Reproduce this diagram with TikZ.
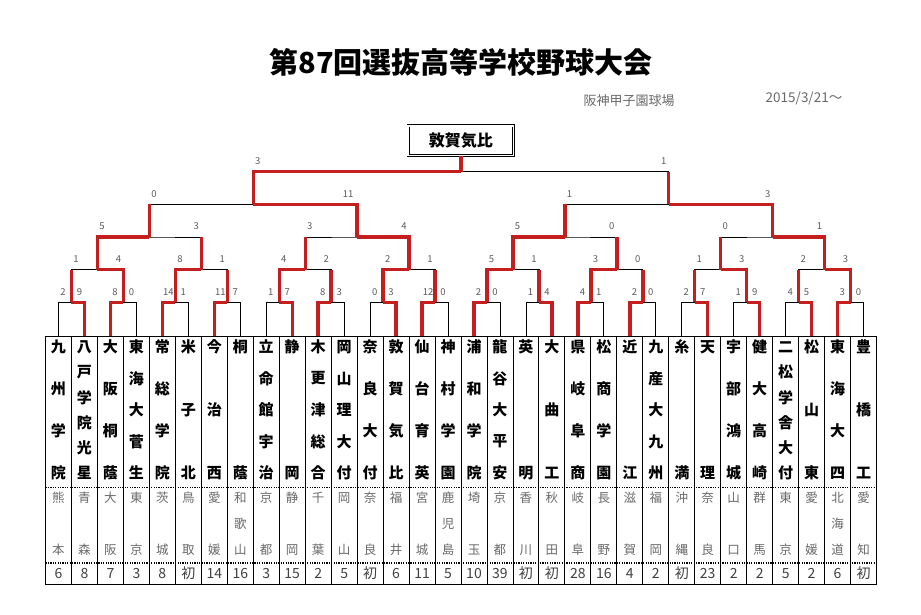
\documentclass[tikz,border=0pt]{standalone}
\usepackage{fontspec}
\newfontfamily\jp{Noto Sans CJK JP}
\definecolor{win}{RGB}{196,30,30}
\definecolor{prefgray}{RGB}{105,105,105}
\definecolor{scoregray}{RGB}{90,90,90}
\newcommand{\colw}{25.97}
\newcommand{\xz}{45.5}

% one game: level, index, winner side (0 left / 1 right), left score, right score
\newcommand{\match}[5]{%
	\pgfmathtruncatemacro\lowlev{#1-1}
	\pgfmathtruncatemacro\uplev{#1+1}
	\pgfmathtruncatemacro\upidx{#2/2}
	\pgfmathtruncatemacro\winidx{2*#2+#3}
	\pgfmathtruncatemacro\lidx{2*#2}
	\pgfmathtruncatemacro\ridx{2*#2+1}
	\draw[winline] (m\lowlev-\winidx) |- (m#1-#2);
	\ifnum#1<5
		\draw[winline] (m#1-#2) -- (m#1-#2 |- m\uplev-\upidx);
	\else
		\draw[winline] (m#1-#2) -- (m#1-#2 |- champ.south);
	\fi
	\ifnum#4>9
		\path (m\lowlev-\lidx |- m#1-#2) node[score, anchor=west, xshift=0.5pt, yshift=10.5pt] (s#1-#2a) {#4};
	\else
		\path (m\lowlev-\lidx |- m#1-#2) node[score, xshift=4.6pt, yshift=10.5pt] (s#1-#2a) {#4};
	\fi
	\ifnum#5>9
		\path (m\lowlev-\ridx |- m#1-#2) node[score, anchor=east, xshift=-3.5pt, yshift=10.5pt] (s#1-#2b) {#5};
	\else
		\path (m\lowlev-\ridx |- m#1-#2) node[score, xshift=-5pt, yshift=10.5pt] (s#1-#2b) {#5};
	\fi
}

\begin{document}
\begin{tikzpicture}[x=1pt,y=-1pt,
	line/.style={black, line width=0.8pt},
	winline/.style={win, line width=3.4pt},
	tablin/.style={black, line width=0.9pt},
	dotline/.style={black, line width=1.4pt, dash pattern=on 1.2pt off 1.2pt},
	score/.style={font=\jp\fontsize{9.5}{9.5}\selectfont, text=scoregray, inner sep=0pt},
	team/.style={font=\jp\bfseries\fontsize{15}{15}\selectfont, inner sep=0pt},
	pref/.style={font=\jp\fontsize{12.5}{12.5}\selectfont, text=prefgray, inner sep=0pt},
	seed/.style={font=\jp\fontsize{14}{14}\selectfont, text=black!75, inner sep=0pt}]
	\useasboundingbox[fill=white] (0,0) rectangle (921,614);
	
	\node[font=\jp\bfseries\fontsize{29}{29}\selectfont] (title) at (461,62.5) {第87回選抜高等学校野球大会};
	\node[font=\jp\fontsize{13}{13}\selectfont, text=prefgray] (venue) at (629,100.7) {阪神甲子園球場};
	\node[font=\jp\fontsize{13.5}{13.5}\selectfont, text=prefgray] (date) at (804,98.3) {2015/3/21～};
	\node[draw, double, line width=0.6pt, double distance=1.6pt, minimum width=105.5pt, minimum height=29.6pt,
		font=\jp\bfseries\fontsize{16}{16}\selectfont] (champ) at (460.85,140.5) {敦賀気比};
	
	% bracket points
	\foreach \i in {0,...,31}
		\coordinate (m0-\i) at ({\xz+\colw*(\i+0.5)},336);
	\foreach \L in {1,...,5}{
		\pgfmathtruncatemacro\last{32/2^\L-1}
		\foreach \k in {0,...,\last}
			\coordinate (m\L-\k) at ({\xz+\colw*2^(\L-1)*(2*\k+1)},{334.95-32.65*\L});
	}
	
	\foreach \L in {1,...,5}{
		\pgfmathtruncatemacro\last{32/2^\L-1}
		\pgfmathtruncatemacro\down{\L-1}
		\foreach \k in {0,...,\last}{
			\pgfmathtruncatemacro\a{2*\k}
			\pgfmathtruncatemacro\b{2*\k+1}
			\draw[line] (m\down-\a) |- (m\L-\k) -| (m\down-\b);
		}
	}
	
	\foreach \w/\sa/\sb [count=\k from 0] in {1/2/9, 0/8/0, 0/14/1, 0/11/7, 1/1/7, 0/8/3, 1/0/3, 0/12/0,
		0/2/0, 1/1/4, 0/4/1, 0/2/0, 1/2/7, 1/1/9, 1/4/5, 0/3/0}
		{\match{1}{\k}{\w}{\sa}{\sb}}
	\foreach \w/\sa/\sb [count=\k from 0] in {1/1/4, 0/8/1, 0/4/2, 0/2/1, 0/5/1, 0/3/0, 1/1/3, 1/2/3}
		{\match{2}{\k}{\w}{\sa}{\sb}}
	\foreach \w/\sa/\sb [count=\k from 0] in {0/5/3, 1/3/4, 0/5/0, 1/0/1}
		{\match{3}{\k}{\w}{\sa}{\sb}}
	\foreach \w/\sa/\sb [count=\k from 0] in {1/0/11, 1/1/3}
		{\match{4}{\k}{\w}{\sa}{\sb}}
	\match{5}{0}{0}{3}{1}
	
	% table
	\draw[tablin] (\xz,336) rectangle (876.5,584);
	\foreach \i in {1,...,31}
		\draw[tablin] ({\xz+\colw*\i},336) -- ({\xz+\colw*\i},584);
	\draw[dotline] (\xz,487.7) -- (876.5,487.7);
	\draw[dotline] (\xz,563) -- (876.5,563);
	
	\foreach \tm/\n/\pr/\np/\sd [count=\i from 0] in {
		{九,州,学,院}/4/{熊,本}/2/6, {八,戸,学,院,光,星}/6/{青,森}/2/8, {大,阪,桐,蔭}/4/{大,阪}/2/7,
		{東,海,大,菅,生}/5/{東,京}/2/3, {常,総,学,院}/4/{茨,城}/2/8, {米,子,北}/3/{鳥,取}/2/初,
		{今,治,西}/3/{愛,媛}/2/14, {桐,蔭}/2/{和,歌,山}/3/16, {立,命,館,宇,治}/5/{京,都}/2/3,
		{静,岡}/2/{静,岡}/2/15, {木,更,津,総,合}/5/{千,葉}/2/2, {岡,山,理,大,付}/5/{岡,山}/2/5,
		{奈,良,大,付}/4/{奈,良}/2/初, {敦,賀,気,比}/4/{福,井}/2/6, {仙,台,育,英}/4/{宮,城}/2/11,
		{神,村,学,園}/4/{鹿,児,島}/3/5, {浦,和,学,院}/4/{埼,玉}/2/10, {龍,谷,大,平,安}/5/{京,都}/2/39,
		{英,明}/2/{香,川}/2/初, {大,曲,工}/3/{秋,田}/2/初, {県,岐,阜,商}/4/{岐,阜}/2/28,
		{松,商,学,園}/4/{長,野}/2/16, {近,江}/2/{滋,賀}/2/4, {九,産,大,九,州}/5/{福,岡}/2/2,
		{糸,満}/2/{沖,縄}/2/初, {天,理}/2/{奈,良}/2/23, {宇,部,鴻,城}/4/{山,口}/2/2,
		{健,大,高,崎}/4/{群,馬}/2/2, {二,松,学,舎,大,付}/6/{東,京}/2/5, {松,山,東}/3/{愛,媛}/2/2,
		{東,海,大,四}/4/{北,海,道}/3/6, {豊,橋,工}/3/{愛,知}/2/初}{
		\pgfmathsetmacro\cx{\xz+\colw*(\i+0.5)}
		\foreach \c [count=\j from 0] in \tm
			\node[team] (n\i-\j) at (\cx,{347+\j*126/(\n-1)}) {\c};
		\foreach \c [count=\j from 0] in \pr
			\node[pref] (p\i-\j) at (\cx,{497.7+\j*52.3/(\np-1)}) {\c};
		\node[seed] (seed\i) at (\cx,573.3) {\sd};
	}
\end{tikzpicture}
\end{document}
